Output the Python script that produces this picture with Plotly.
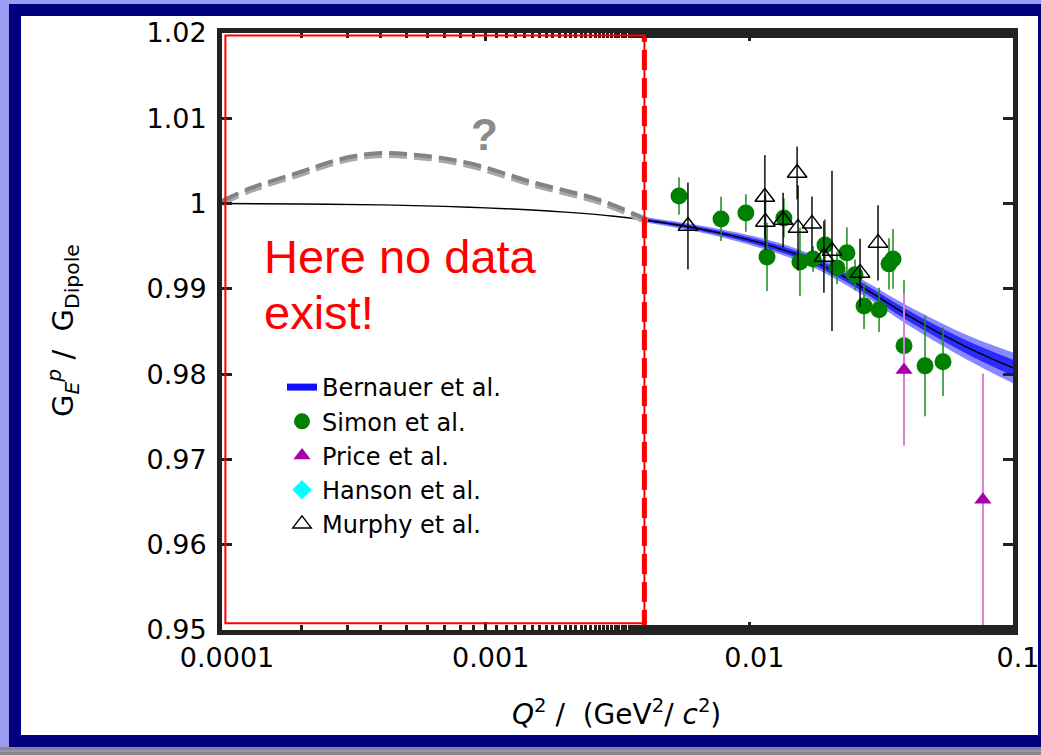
import plotly.graph_objects as go

# ---------------- data ----------------
# Bernauer et al. central curve
bern_q = [1e-4, 2e-4, 4e-4, 7e-4, 1e-3, 1.5e-3, 2e-3, 3e-3, 4e-3,
          6.5e-3, 1.1e-2, 1.56e-2, 2.08e-2, 2.79e-2, 3.9e-2, 6.3e-2, 8.0e-2, 1e-1]
bern_g = [1.0000, 0.99995, 0.99985, 0.99967, 0.9995, 0.99925, 0.9990, 0.99855, 0.99808,
          0.99703, 0.99539, 0.99387, 0.99211, 0.98988, 0.98707, 0.98355, 0.98203, 0.98074]
# Bernauer uncertainty band (from Q2 ~ 0.004 on)
band_q = [0.0038, 0.0065, 0.011, 0.0156, 0.0208, 0.0279, 0.039, 0.063, 0.08, 0.1]
band_g = [0.9982, 0.99703, 0.99539, 0.99387, 0.99211, 0.98988, 0.98707, 0.98355, 0.98203, 0.98074]
band_outer = [0.0003, 0.0004, 0.0006, 0.0007, 0.0008, 0.0009, 0.0011, 0.0014, 0.0016, 0.0018]
band_inner = [0.00017, 0.00022, 0.00033, 0.0004, 0.00045, 0.0005, 0.0006, 0.00075, 0.00085, 0.00095]

# speculative "?" curve in the no-data region
gray_q = [1e-4, 1.28e-4, 1.98e-4, 2.8e-4, 3.87e-4, 5.5e-4, 8.5e-4, 1.51e-3, 2.72e-3, 4.0e-3, 4.3e-3]
gray_g = [1.0003, 1.0018, 1.0037, 1.0052, 1.0059, 1.0057, 1.0048, 1.0025, 1.0004, 0.9983, 0.9980]

# Simon et al.
simon_q = [0.00541, 0.00781, 0.0097, 0.01167, 0.01352, 0.01556, 0.01744, 0.01936, 0.0215,
           0.02344, 0.02517, 0.02723, 0.03105, 0.03386, 0.03508, 0.0386, 0.04637, 0.05427]
simon_g = [1.0009, 0.9982, 0.9989, 0.99375, 0.99832, 0.99316, 0.99351, 0.99515, 0.99246,
           0.99422, 0.99164, 0.9880, 0.98754, 0.99293, 0.99351, 0.98332, 0.98097, 0.98144]
simon_e = [0.0022, 0.0026, 0.0022, 0.004, 0.0023, 0.004, 0.0015, 0.003, 0.0019,
           0.003, 0.0018, 0.0027, 0.0026, 0.003, 0.0035, 0.0077, 0.0059, 0.004]

# Price et al.
price_q = [0.0386, 0.0769]
price_g = [0.9805, 0.96527]
price_e = [0.0089, 0.0148]

# Hanson et al. (no points inside this Q2 range; legend entry only)
hanson_q = [None]
hanson_g = [None]

# Murphy et al.
murphy_q = [0.00585, 0.01145, 0.01150, 0.01343, 0.01518, 0.0153, 0.01728, 0.01918, 0.02058, 0.0263, 0.03077]
murphy_g = [0.99738, 1.00078, 0.99785, 0.99808, 1.00359, 0.99715, 0.99762, 0.99375, 0.99445, 0.99187, 0.99539]
murphy_e = [0.0051, 0.0049, 0.0033, 0.0032, 0.0031, 0.005, 0.0032, 0.0042, 0.0094, 0.004, 0.0044]

x_tickvals = [1e-4, 1e-3, 1e-2, 1e-1]
x_ticktext = ["0.0001", "0.001", "0.01", "0.1"]
y_tickvals = [0.95, 0.96, 0.97, 0.98, 0.99, 1.00, 1.01, 1.02]
y_ticktext = ["0.95", "0.96", "0.97", "0.98", "0.99", "1", "1.01", "1.02"]

no_data_limit = 0.004

# ---------------- figure ----------------
fig = go.Figure()

def add_band(half, color):
    up = [g + h for g, h in zip(band_g, half)]
    lo = [g - h for g, h in zip(band_g, half)]
    fig.add_trace(go.Scatter(x=band_q, y=lo, mode="lines", line=dict(width=0, shape="spline"),
                             showlegend=False, hoverinfo="skip"))
    fig.add_trace(go.Scatter(x=band_q, y=up, mode="lines", line=dict(width=0, shape="spline"),
                             fill="tonexty", fillcolor=color, showlegend=False, hoverinfo="skip"))

add_band(band_outer, "rgba(85,85,255,0.7)")
add_band(band_inner, "rgba(20,20,250,0.8)")

fig.add_trace(go.Scatter(x=bern_q, y=bern_g, mode="lines",
                         line=dict(color="black", width=1.4, shape="spline"),
                         showlegend=False, hoverinfo="skip"))

# speculative gray dashed curve (two tones)
fig.add_trace(go.Scatter(x=gray_q, y=[g - 0.0003 for g in gray_g], mode="lines",
                         line=dict(color="#a8a8a8", width=5, dash="18px,7px", shape="spline"),
                         showlegend=False, hoverinfo="skip"))
fig.add_trace(go.Scatter(x=gray_q, y=gray_g, mode="lines",
                         line=dict(color="#838383", width=4, dash="18px,7px", shape="spline"),
                         showlegend=False, hoverinfo="skip"))

# red "no data" boundary
fig.add_trace(go.Scatter(x=[no_data_limit, no_data_limit], y=[0.95, 1.02], mode="lines",
                         line=dict(color="#ff0000", width=5, dash="20px,8px"),
                         showlegend=False, hoverinfo="skip"))

# legend entry for Bernauer
fig.add_trace(go.Scatter(x=[None], y=[None], mode="lines", name="Bernauer et al.",
                         line=dict(color="#1010ff", width=7), legendrank=1))

fig.add_trace(go.Scatter(x=simon_q, y=simon_g, mode="markers", name="Simon et al.",
                         marker=dict(symbol="circle", size=17, color="#008000"),
                         error_y=dict(type="data", array=simon_e, color="rgba(30,140,30,0.85)",
                                      thickness=1.8, width=0),
                         legendrank=2))
fig.add_trace(go.Scatter(x=price_q, y=price_g, mode="markers", name="Price et al.",
                         marker=dict(symbol="triangle-up", size=15, color="#a800a8"),
                         error_y=dict(type="data", array=price_e, color="#d880d8",
                                      thickness=2, width=0),
                         legendrank=3))
fig.add_trace(go.Scatter(x=hanson_q, y=hanson_g, mode="markers", name="Hanson et al.",
                         marker=dict(symbol="diamond", size=15, color="#00ffff"),
                         legendrank=4))
fig.add_trace(go.Scatter(x=murphy_q, y=murphy_g, mode="markers", name="Murphy et al.",
                         marker=dict(symbol="triangle-up-open", size=17, color="black",
                                     line=dict(width=1.5, color="black")),
                         error_y=dict(type="data", array=murphy_e, color="rgba(0,0,0,0.8)",
                                      thickness=1.8, width=0),
                         legendrank=5))

# ---------------- layout ----------------
L, R, T, B = 222, 28, 33, 125
W, H = 1041, 755
pw, ph = W - L - R, H - T - B

def px(x):
    return (x - L) / pw

def py(y):
    return (H - B - y) / ph

shapes = [
    dict(type="rect", xref="paper", yref="paper", x0=px(9), x1=px(1060), y0=py(747), y1=py(4),
         fillcolor="#000080", line=dict(width=0), layer="below"),
    dict(type="rect", xref="paper", yref="paper", x0=px(21), x1=px(1038), y0=py(735), y1=py(16),
         fillcolor="white", line=dict(width=0), layer="below"),
    dict(type="rect", xref="paper", yref="paper", x0=px(-10), x1=px(1060), y0=py(760), y1=py(747),
         fillcolor="#888888", line=dict(width=0), layer="below"),
    dict(type="line", xref="paper", yref="paper", x0=px(-10), x1=px(1060), y0=py(751), y1=py(751),
         line=dict(color="#a8a8f0", width=1), layer="below"),
    dict(type="rect", xref="paper", yref="paper", x0=px(1038), x1=px(1060), y0=py(747), y1=py(4),
         fillcolor="#000080", line=dict(width=0), layer="above"),
    # red no-data box outline
    dict(type="rect", xref="x", yref="y", x0=1.03e-4, x1=no_data_limit, y0=0.9508, y1=1.0197,
         line=dict(color="#ff0000", width=2), layer="above"),
]

annotations = [
    dict(text="Here no data", xref="paper", yref="paper", x=px(262), y=py(256),
         xanchor="left", yanchor="middle", showarrow=False,
         font=dict(family="Liberation Sans, Arial", size=47, color="#ff0000")),
    dict(text="exist!", xref="paper", yref="paper", x=px(262), y=py(312),
         xanchor="left", yanchor="middle", showarrow=False,
         font=dict(family="Liberation Sans, Arial", size=47, color="#ff0000")),
    dict(text="<b>?</b>", xref="paper", yref="paper", x=px(484), y=py(135),
         xanchor="center", yanchor="middle", showarrow=False,
         font=dict(family="Liberation Sans, Arial", size=44, color="#8a8a8a")),
    dict(text="<i>Q</i><sup>2</sup> /\u00a0 (GeV<sup>2</sup>/ <i>c</i><sup>2</sup>)",
         xref="paper", yref="paper", x=px(616), y=py(713), xanchor="center", yanchor="middle",
         showarrow=False, font=dict(family="DejaVu Sans", size=28, color="black")),
    dict(text="G<sub><i>E</i></sub><sup><i>p</i></sup> /\u00a0 G<sub>Dipole</sub>",
         xref="paper", yref="paper", x=px(63), y=py(331), xanchor="center", yanchor="middle",
         textangle=-90, showarrow=False, font=dict(family="DejaVu Sans", size=29, color="black")),
]

axis_common = dict(showline=True, linewidth=5, linecolor="#222222", mirror="allticks",
                   ticks="inside", tickcolor="#222222", tickwidth=3, showgrid=False, zeroline=False,
                   automargin=False,
                   tickfont=dict(family="DejaVu Sans", size=27, color="black"))

fig.update_layout(
    width=W, height=H,
    margin=dict(l=L, r=R, t=T, b=B, pad=0, autoexpand=False),
    paper_bgcolor="#9c9cf2",
    plot_bgcolor="white",
    shapes=shapes,
    annotations=annotations,
    xaxis=dict(type="log", range=[-4, -1], tickvals=x_tickvals, ticktext=x_ticktext, ticklen=8,
               ticklabelshift=5,
               minor=dict(ticks="inside", ticklen=5, tickwidth=3, tickcolor="#222222", showgrid=False),
               **axis_common),
    yaxis=dict(range=[0.95, 1.02], tickvals=y_tickvals, ticktext=y_ticktext, ticklen=10,
               ticklabelstandoff=5, **axis_common),
    legend=dict(x=px(282), y=py(365), xanchor="left", yanchor="top", bgcolor="rgba(0,0,0,0)",
                font=dict(family="DejaVu Sans", size=24, color="black"), traceorder="normal",
                itemwidth=30),
    showlegend=True,
)

fig.write_html("out.html")
